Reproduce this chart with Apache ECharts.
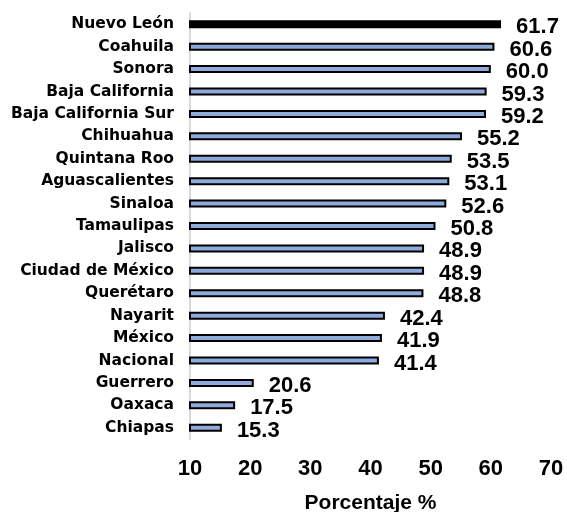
<!DOCTYPE html>
<html>
<head>
<meta charset="utf-8">
<script src="https://cdn.jsdelivr.net/npm/echarts@6/dist/echarts.min.js"></script>
<style>
  html, body { margin: 0; padding: 0; background: #fff; }
  #chart { width: 567px; height: 512px; }
</style>
</head>
<body>
<div id="chart"></div>
<script>
// Datos
const estados = [
  "Nuevo León", "Coahuila", "Sonora", "Baja California", "Baja California Sur",
  "Chihuahua", "Quintana Roo", "Aguascalientes", "Sinaloa", "Tamaulipas",
  "Jalisco", "Ciudad de México", "Querétaro", "Nayarit", "México",
  "Nacional", "Guerrero", "Oaxaca", "Chiapas"
];
const porcentajes = [
  61.7, 60.6, 60.0, 59.3, 59.2,
  55.2, 53.5, 53.1, 52.6, 50.8,
  48.9, 48.9, 48.8, 42.4, 41.9,
  41.4, 20.6, 17.5, 15.3
];
const destacado = "Nuevo León";
const ejeX = { min: 10, max: 70, interval: 10 };

const chart = echarts.init(document.getElementById("chart"));

const option = {
  backgroundColor: "#fff",
  animation: false,
  grid: {
    left: 190,
    right: 16,
    top: 13,
    height: 426,
    containLabel: false,
    outerBoundsMode: "none"
  },
  xAxis: {
    type: "value",
    min: ejeX.min,
    max: ejeX.max,
    interval: ejeX.interval,
    splitLine: { show: false },
    axisLine: { show: false },
    axisTick: { show: false },
    axisLabel: {
      color: "#000",
      fontFamily: "Liberation Sans",
      fontWeight: "bold",
      fontSize: 22,
      margin: 19
    },
    name: "Porcentaje %",
    nameLocation: "middle",
    nameGap: 54,
    nameTextStyle: {
      color: "#000",
      fontFamily: "Liberation Sans",
      fontWeight: "bold",
      fontSize: 21
    }
  },
  yAxis: {
    type: "category",
    inverse: true,
    data: estados,
    axisLine: { show: true, lineStyle: { color: "#d9d9d9", width: 2 } },
    axisTick: { show: false },
    axisLabel: {
      color: "#000",
      fontFamily: "DejaVu Sans",
      fontWeight: "bold",
      fontSize: 15.5,
      margin: 16
    }
  },
  series: [
    {
      type: "bar",
      barWidth: 8,
      data: estados.map((e, i) => ({
        value: porcentajes[i],
        itemStyle: e === destacado ? { color: "#000" } : undefined
      })),
      itemStyle: {
        color: "#8faadc",
        borderColor: "#000",
        borderWidth: 2
      },
      label: {
        show: true,
        position: "right",
        distance: 15,
        offset: [0, 3],
        color: "#000",
        fontFamily: "Liberation Sans",
        fontWeight: "bold",
        fontSize: 22,
        formatter: p => p.value.toFixed(1)
      }
    }
  ]
};

chart.setOption(option);
</script>
</body>
</html>
